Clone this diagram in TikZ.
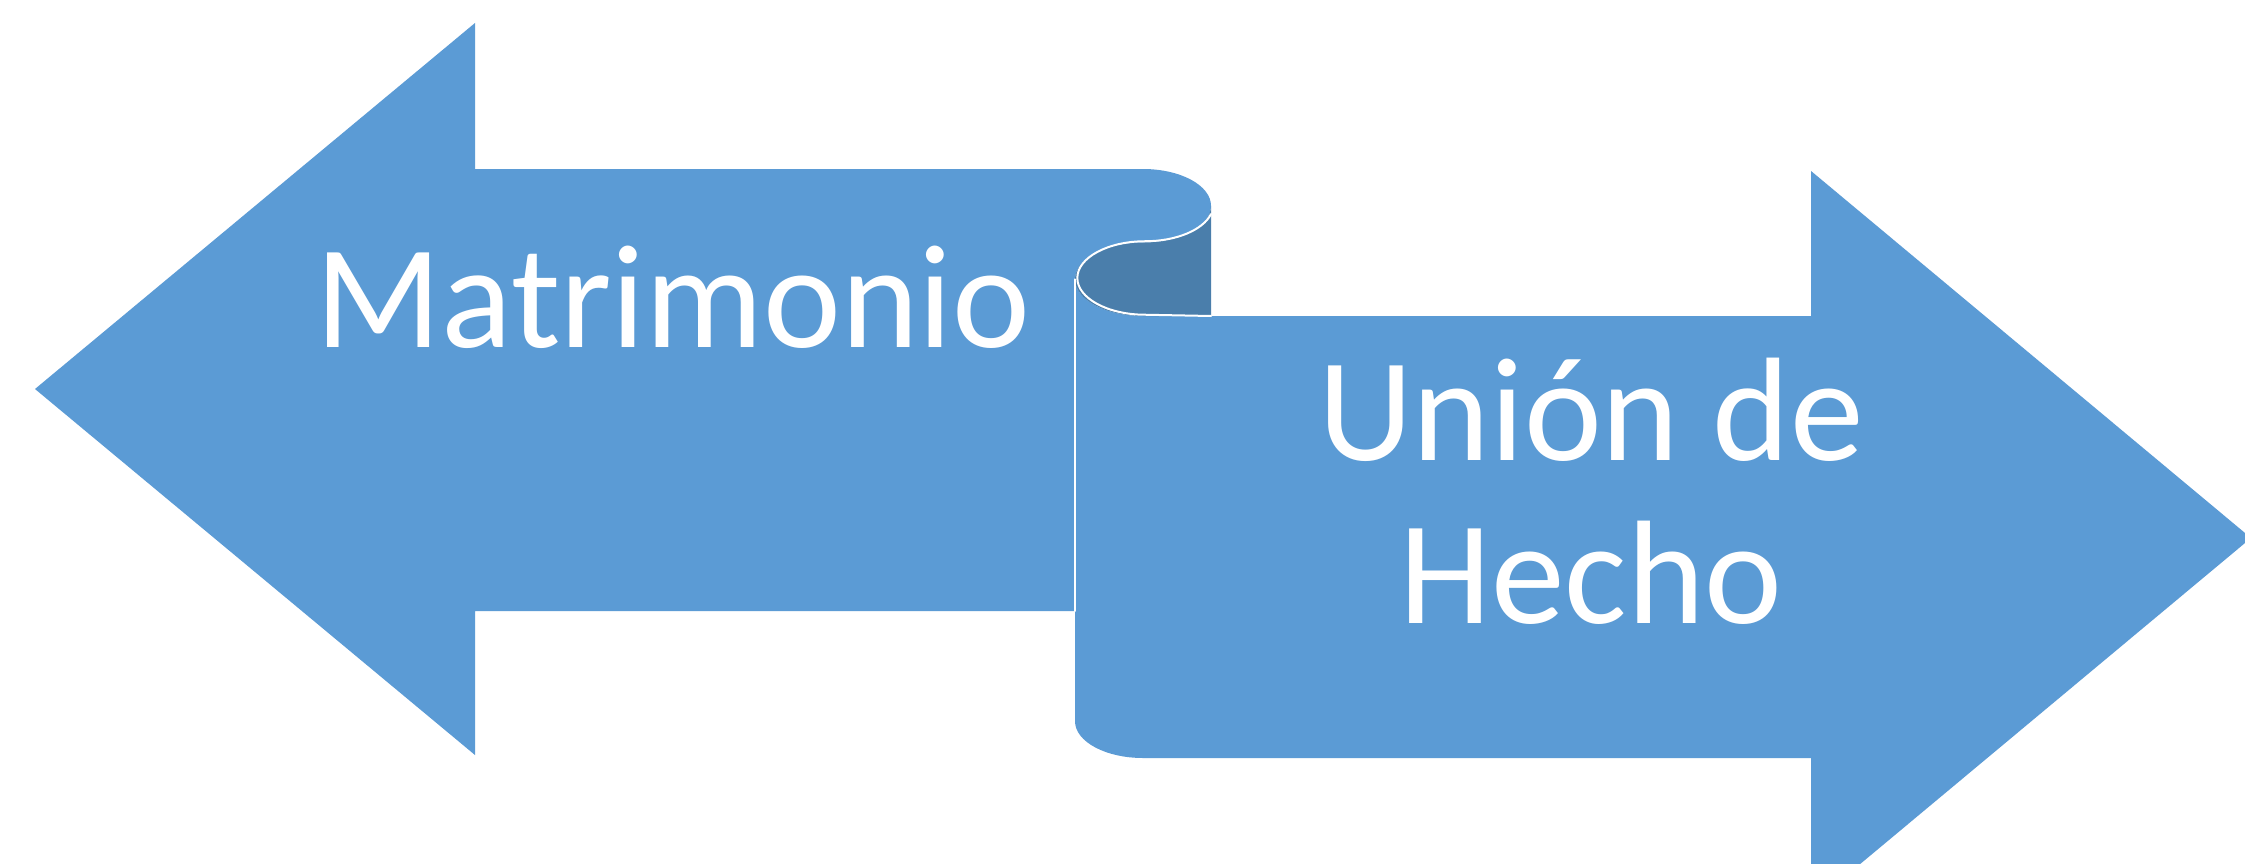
\documentclass[tikz,border=0pt]{standalone}
\usepackage{fontspec}
\setmainfont{Carlito}
\definecolor{arrowblue}{HTML}{5B9BD5}
\definecolor{curldark}{HTML}{4A7EAB}
\tikzset{
  arrowfill/.style={fill=arrowblue, draw=none},
  curlfill/.style={fill=curldark, draw=none},
  edgeline/.style={draw=white, line width=2pt, line cap=round},
  bigtext/.style={text=white, inner sep=0pt, font=\fontsize{147.5}{163}\selectfont}
}
\begin{document}
\begin{tikzpicture}[x=1pt, y=-1pt]
  \clip (0,0) rectangle (2245,864);
  \fill[white] (0,0) rectangle (2245,864);
  % left arrow with the top curl of the scroll
  \path[arrowfill] (35,389) -- (475,23) -- (475,169) -- (1143,169)
    arc[start angle=-90, end angle=90, x radius=68, y radius=36.75]
    arc[start angle=-90, end angle=-180, x radius=68, y radius=36.75]
    -- (1075,611) -- (475,611) -- (475,755) -- cycle;
  % right arrow
  \path[arrowfill] (1075,279.25)
    arc[start angle=180, end angle=90, x radius=68, y radius=36.75]
    -- (1811,316) -- (1811,171) -- (2251,538) -- (1811,905) -- (1811,758)
    -- (1143,758)
    arc[start angle=90, end angle=180, x radius=68, y radius=36.75]
    -- cycle;
  % dark back side of the curl
  \path[curlfill] (1143,242.5)
    arc[start angle=-90, end angle=-270, x radius=68, y radius=36.75]
    -- (1211,316) -- (1211,205.75)
    arc[start angle=0, end angle=90, x radius=68, y radius=36.75]
    -- cycle;
  % white outlines of the scroll
  \draw[edgeline] (1211,214)
    arc[start angle=15, end angle=90, x radius=68, y radius=36.75]
    arc[start angle=-90, end angle=-270, x radius=68, y radius=36.75]
    -- (1211,316);
  \draw[edgeline] (1075,279.25) -- (1075,611);
  % texts
  \node[bigtext, anchor=base] (matrimonio) at (673,347) {Matrimonio};
  \node[bigtext, anchor=base, align=center] (union) at (1591,623) {Unión de\\Hecho};
\end{tikzpicture}
\end{document}
